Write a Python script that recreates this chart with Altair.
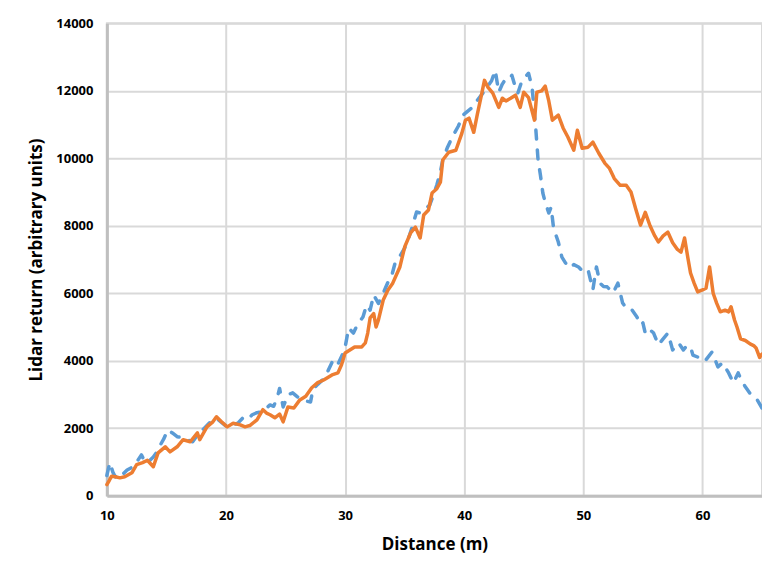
import altair as alt
import pandas as pd

# Blue dashed series
blue_x = [10.0, 10.25, 10.5, 10.7, 11.0, 11.3, 11.7, 12.2, 12.6, 12.9, 13.2, 13.4, 13.9, 14.2, 14.5, 14.8,
          15.1, 15.5, 15.9, 16.3, 16.8, 17.2, 17.6, 18.2, 18.7, 19.2, 19.7, 20.1, 20.6, 21.0, 21.4, 21.8,
          22.2, 22.6, 23.1, 23.4, 23.7, 24.0, 24.3, 24.5, 24.8, 25.2, 25.6, 26.0, 26.4, 26.8, 27.1, 27.3,
          27.7, 28.1, 28.5, 29.0, 29.4, 29.8, 30.0, 30.3, 30.7, 31.0, 31.3, 31.5, 31.8, 32.1, 32.4, 32.8,
          33.2, 33.6, 33.9, 34.2, 34.6, 35.0, 35.3, 35.6, 36.0, 36.3, 36.7, 37.1, 37.4, 37.7, 38.0, 38.2,
          38.6, 39.0, 39.5, 39.9, 40.3, 40.7, 41.1, 41.5, 41.9, 42.3, 42.6, 42.9, 43.2, 43.4, 43.7, 44.0,
          44.3, 44.5, 44.8, 45.1, 45.4, 45.7, 46.0, 46.2, 46.4, 46.6, 46.8, 47.1, 47.3, 47.5, 47.9, 48.2,
          48.5, 48.9, 49.2, 49.6, 50.0, 50.4, 50.8, 51.1, 51.4, 51.7, 52.0, 52.5, 52.9, 53.3, 53.7, 54.1,
          54.5, 54.8, 55.0, 55.2, 55.5, 55.9, 56.3, 56.7, 57.1, 57.5, 58.0, 58.4, 58.7, 59.0, 59.2, 59.6,
          60.0, 60.3, 60.8, 61.3, 61.7, 62.2, 62.6, 63.0, 63.3, 63.6, 64.2, 64.6, 65.0]
blue_y = [600, 980, 700, 560, 680, 620, 760, 860, 1050, 1210, 1000, 980, 1150, 1300, 1510, 1700,
          1950, 1860, 1750, 1720, 1650, 1600, 1800, 2010, 2190, 2300, 2150, 2040, 2100, 2150, 2300, 2250,
          2400, 2460, 2490, 2600, 2690, 2650, 2900, 3180, 2630, 2990, 3050, 2930, 2840, 2800, 2780, 3150,
          3300, 3430, 3650, 4030, 3900, 4200, 4400, 4970, 4820, 5050, 5200, 5300, 5650, 5500, 5950, 5700,
          6000, 6330, 6500, 6900, 7100, 7340, 7600, 7930, 8410, 8380, 8500, 8610, 8900, 9210, 9600, 9950,
          10330, 10630, 10950, 11280, 11400, 11510, 11720, 11900, 12100, 12300, 12610, 11960, 12200, 12310, 12300, 12460,
          12100, 11930, 12250, 12400, 12520, 12100, 10920, 9950, 9500, 8970, 8700, 8380, 8550, 7930, 7520, 7070,
          6900, 6750, 6850, 6780, 6630, 6690, 6100, 6780, 6300, 6200, 6190, 6010, 6300, 5710, 5510, 5500,
          5300, 5060, 5120, 4820, 4950, 4820, 4470, 4650, 4820, 4320, 4530, 4320, 4450, 4410, 4170, 4110,
          4150, 4030, 4260, 3820, 3940, 3640, 3340, 3640, 3400, 3230, 2930, 2840, 2600]

# Orange solid series
orange_x = [10.0, 10.2, 10.4, 10.7, 11.1, 11.5, 12.1, 12.5, 13.0, 13.4, 13.9, 14.3, 14.9, 15.3, 15.9, 16.4,
            17.0, 17.6, 17.8, 18.4, 18.9, 19.2, 19.6, 20.1, 20.6, 21.2, 21.6, 22.0, 22.6, 23.1, 23.4, 23.7,
            24.1, 24.5, 24.8, 25.2, 25.7, 26.2, 26.7, 27.2, 27.7, 28.2, 28.9, 29.4, 29.7, 30.0, 30.4, 30.8,
            31.4, 31.7, 31.9, 32.1, 32.4, 32.6, 32.8, 33.2, 33.6, 34.0, 34.6, 35.0, 35.5, 35.9, 36.3, 36.6,
            37.0, 37.3, 37.7, 38.0, 38.2, 38.7, 39.3, 39.8, 40.1, 40.4, 40.8, 41.1, 41.4, 41.7, 42.0, 42.4,
            42.9, 43.2, 43.5, 43.9, 44.3, 44.7, 45.0, 45.4, 45.9, 46.1, 46.5, 46.8, 47.1, 47.4, 47.9, 48.3,
            48.7, 49.2, 49.5, 49.9, 50.4, 50.8, 51.3, 51.8, 52.2, 52.6, 53.1, 53.6, 54.0, 54.4, 54.8, 55.2,
            55.6, 56.0, 56.3, 56.7, 57.1, 57.5, 57.9, 58.2, 58.5, 58.8, 59.0, 59.3, 59.6, 60.0, 60.3, 60.6,
            60.9, 61.2, 61.5, 61.9, 62.2, 62.4, 62.7, 62.9, 63.2, 63.6, 64.0, 64.3, 64.5, 64.8, 65.0]
orange_y = [330, 450, 580, 560, 530, 560, 680, 920, 980, 1050, 860, 1270, 1450, 1300, 1450, 1660,
            1600, 1860, 1660, 2040, 2190, 2340, 2200, 2040, 2150, 2100, 2040, 2080, 2250, 2550, 2450, 2400,
            2310, 2420, 2190, 2630, 2600, 2840, 2950, 3200, 3350, 3430, 3580, 3640, 3880, 4230, 4320, 4410,
            4410, 4530, 4820, 5270, 5400, 5000, 5210, 5800, 6100, 6300, 6780, 7370, 7790, 7960, 7640, 8320,
            8470, 8970, 9100, 9290, 9950, 10180, 10240, 10740, 11130, 11190, 10770, 11300, 11800, 12310, 12100, 11930,
            11510, 11780, 11700, 11780, 11870, 11510, 11960, 11800, 11130, 11960, 12000, 12140, 11700, 11130, 11280, 10900,
            10630, 10240, 10830, 10300, 10330, 10480, 10150, 9860, 9700, 9400, 9200, 9200, 9000, 8500, 8020, 8400,
            8000, 7700, 7520, 7700, 7810, 7500, 7300, 7220, 7640, 7000, 6600, 6300, 6040, 6100, 6150, 6780,
            6000, 5700, 5450, 5500, 5450, 5600, 5200, 5000, 4650, 4600, 4500, 4450, 4380, 4100, 4200]

x_ticks = [10, 20, 30, 40, 50, 60]
y_ticks = [0, 2000, 4000, 6000, 8000, 10000, 12000, 14000]

blue_df = pd.DataFrame({"d": blue_x, "v": blue_y})
orange_df = pd.DataFrame({"d": orange_x, "v": orange_y})

FONT = "Open Sans"

x_enc = alt.X("d:Q", scale=alt.Scale(domain=[10, 65], nice=False, zero=False),
              axis=alt.Axis(title="Distance (m)", values=x_ticks, format="d", labelFlush=False))
y_enc = alt.Y("v:Q", scale=alt.Scale(domain=[0, 14000], nice=False),
              axis=alt.Axis(title="Lidar return (arbitrary units)", values=y_ticks, format="d",
                            labelFlush=False))

blue = alt.Chart(blue_df).mark_line(color="#5B9BD5", strokeWidth=3.5, strokeDash=[9, 11],
                                    strokeCap="round", strokeJoin="round").encode(x=x_enc, y=y_enc, order="d:Q")
orange = alt.Chart(orange_df).mark_line(color="#ED7D31", strokeWidth=3.5,
                                        strokeJoin="round", strokeCap="round").encode(x=x_enc, y=y_enc, order="d:Q")

chart = alt.layer(blue, orange).properties(
    width=656, height=473,
    autosize=alt.AutoSizeParams(type="none"),
    padding={"left": 99, "top": 15, "right": 0, "bottom": 62},
    background="white",
).configure_view(
    stroke="#D9D9D9", strokeWidth=2
).configure_axis(
    grid=True, gridColor="#D9D9D9", gridWidth=2,
    domainColor="#BFBFBF", domainWidth=3,
    ticks=False,
    labelFont=FONT, labelFontWeight="bold", labelFontSize=13, labelColor="#000000",
    titleFont=FONT, titleFontWeight="bold", titleFontSize=17, titleColor="#000000",
).configure_axisX(
    labelPadding=14, titlePadding=14
).configure_axisY(
    labelPadding=14, titlePadding=10
)

chart.save("out.html", embed_options={"renderer": "svg", "actions": False})
